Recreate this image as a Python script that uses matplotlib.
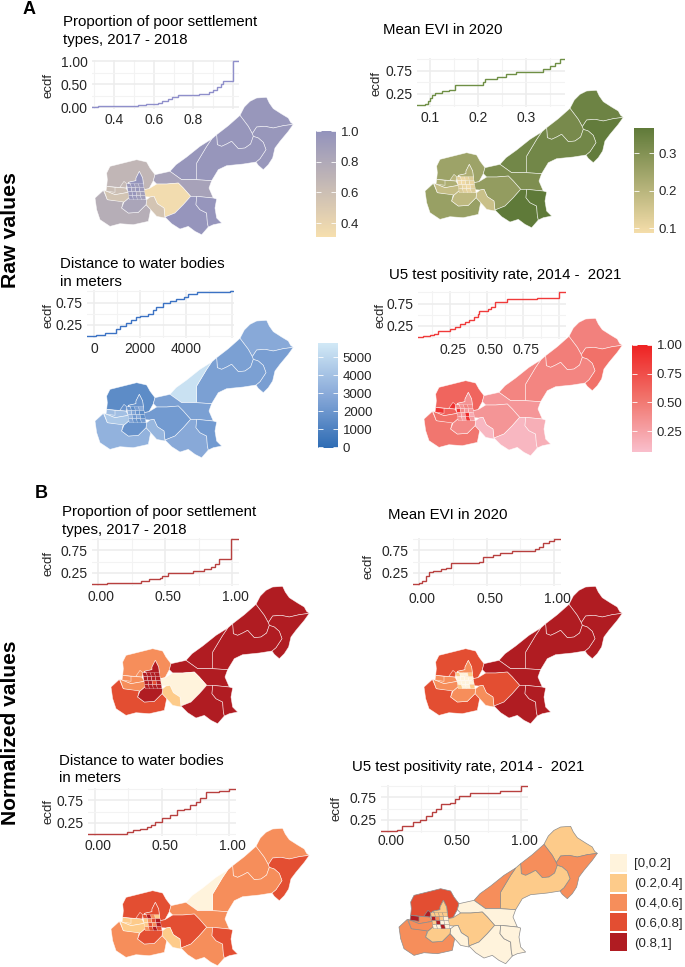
import numpy as np
import matplotlib
matplotlib.use('Agg')
import matplotlib.pyplot as plt
from matplotlib.cm import ScalarMappable
from matplotlib.collections import PolyCollection
from matplotlib.colors import LinearSegmentedColormap, ListedColormap, BoundaryNorm, Normalize
from matplotlib.ticker import AutoMinorLocator
from matplotlib.transforms import ScaledTranslation

plt.rcParams['font.family'] = ['Liberation Sans', 'DejaVu Sans']

W, H = 685, 967

#district outlines, same for all 8 maps
regions = [
    [(320,520),(330,500),(370,490),(410,480),(440,487),(450,505),(465,525),(460,543),(447,567),(432,570),(428,535),(418,515),(408,535),(408,543),(385,548),(378,565),(320,560),(322,540)],
    [(720,347),(733,322),(750,305),(770,295),(800,293),(808,310),(820,327),(845,343),(865,355),(872,368),(880,374),(850,378),(820,385),(795,380),(770,382),(757,402),(745,380)],
    [(757,402),(770,382),(795,380),(820,385),(850,378),(880,374),(865,395),(840,425),(825,445),(818,475),(805,495),(790,510),(775,497),(768,487),(780,477),(798,450),(790,428),(775,415),(760,410)],
    [(650,405),(685,378),(720,347),(745,380),(757,402),(760,410),(752,433),(735,445),(715,447),(695,425),(680,433),(665,440),(652,435)],
    [(635,418),(650,405),(652,435),(665,440),(680,433),(695,425),(715,447),(735,445),(752,433),(760,410),(775,415),(790,428),(798,450),(780,477),(768,487),(730,493),(680,498),(655,510),(635,543),(590,540),(590,490),(605,465),(620,440)],
    [(510,515),(528,495),(560,472),(600,440),(635,418),(620,440),(605,465),(590,490),(590,540),(545,540)],
    [(465,525),(510,515),(545,540),(590,540),(635,543),(627,565),(640,595),(590,590),(572,590),(550,565),(535,550),(500,553),(470,553),(460,543)],
    [(420,590),(432,570),(447,567),(470,553),(500,553),(535,550),(550,565),(572,590),(550,615),(525,640),(495,652),(492,625),(472,612),(462,590),(450,592)],
    [(440,600),(450,592),(462,590),(472,612),(492,625),(495,655),(470,650),(452,630),(438,615)],
    [(495,652),(525,640),(550,615),(572,590),(590,590),(588,615),(600,630),(620,640),(622,668),(625,682),(605,705),(585,695),(565,680),(540,688),(515,672)],
    [(590,590),(640,595),(650,598),(645,625),(650,655),(665,670),(640,675),(625,682),(622,668),(620,640),(600,630),(588,615)],
    [(408,535),(418,515),(428,535),(432,570),(405,563),(385,548),(408,543)],
    [(285,595),(310,572),(322,600),(370,605),(365,625),(385,640),(415,638),(438,615),(452,630),(445,665),(400,675),(360,672),(330,680),(300,660),(290,630)],
    [(365,625),(372,607),(392,590),(420,597),(440,600),(438,615),(415,638),(385,640)],
    [(345,563),(378,565),(385,578),(345,585),(318,574)],
    [(312,572),(318,574),(345,585),(385,578),(392,590),(372,607),(322,600)],
    [(320,560),(345,563),(345,578),(318,574)],
    [(360,562),(372,545),(380,552),(378,565)],
]
#small urban wards in the middle
ward_x = [380, 392, 404, 416, 430]
ward_y = [552, 564, 576, 588, 600]

#district values (same order as regions)
poor_raw = [.68,.96,.96,.97,.97,.97,.86,.34,.55,.98,.98,.99,.76,.84,.60,.56,.62,.65]
evi_raw = [.25,.34,.36,.32,.33,.33,.31,.27,.17,.37,.37,.22,.26,.19,.22,.18,.22,.2]
water_raw = [1500,2900,2400,2500,2500,5400,2500,2200,3500,2900,2200,1800,3300,1800,3900,4300,3800,1800]
tpr_raw = [.62,.45,.55,.47,.43,.43,.32,.33,.12,.12,.17,.35,.52,.40,.65,.55,.9,.92]
poor_norm = [.5,.9,.9,.9,.9,.9,.9,.1,.3,.9,.9,.9,.7,.9,.5,.5,.5,.5]
evi_norm = [.7,.9,.9,.9,.9,.9,.9,.7,.5,.9,.9,.5,.7,.5,.5,.5,.5,.7]
water_norm = [.7,.5,.7,.5,.5,.1,.5,.7,.3,.5,.7,.7,.5,.7,.3,.3,.3,.7]
tpr_norm = [.7,.3,.5,.5,.3,.5,.1,.3,.1,.1,.1,.3,.5,.3,.5,.5,.9,.9]

poor_ward = [.95,.98,.9,.95,.98,.9,.97,.93,.95,.98,.85,.9,.97,.95,.92,.9]
evi_ward = [.12,.1,.11,.13,.1,.1,.12,.11,.13,.11,.1,.12,.14,.12,.11,.13]
water_ward = [2000,1500,2400,3000,3300,2600,1800,1500,3500,2100,2800,1500,2600,1900,1700,2200]
tpr_ward = [.4,.35,.45,.4,.9,.4,.3,.3,.35,.3,.95,.2,.35,.25,.9,.3]
poor_ward_n = [.9,.9,.9,.9,.9,.9,.9,.9,.9,.9,.7,.9,.9,.9,.9,.9]
evi_ward_n = [.3,.1,.1,.3,.1,.1,.1,.1,.1,.1,.1,.1,.3,.1,.1,.3]
water_ward_n = [.7,.9,.5,.3,.3,.5,.7,.9,.3,.7,.5,.9,.5,.7,.9,.7]
tpr_ward_n = [.3,.3,.3,.3,.9,.5,.3,.1,.3,.9,.1,.1,.1,.1,.9,.1]

#ecdf curves
poor_x = [.289,.32,.52,.56,.62,.64,.67,.69,.72,.83,.88,.90,.92,.94,.95,1.0]
poor_y = [0,.03,.05,.07,.10,.13,.18,.22,.26,.28,.33,.37,.43,.50,.58,1.0]
evi_x = [.073,.09,.095,.10,.105,.11,.125,.14,.152,.21,.215,.24,.258,.28,.336,.35,.36,.37]
evi_y = [0,.03,.09,.16,.23,.27,.30,.34,.45,.50,.58,.62,.67,.72,.78,.85,.93,1.0]
water_x = [-300,100,500,950,1150,1400,1630,1850,2000,2350,2550,2720,3010,3300,3590,3900,4100,4460,5900]
water_y = [0,.03,.08,.17,.22,.30,.36,.42,.45,.50,.58,.64,.73,.78,.84,.88,.93,.98,1.0]
tpr_x = [.027,.06,.11,.14,.165,.245,.28,.315,.35,.38,.41,.44,.45,.51,.53,.556,.637,.845,.995]
tpr_y = [0,.02,.05,.08,.13,.18,.23,.30,.34,.39,.45,.52,.59,.62,.68,.78,.85,.88,1.0]
poor_nx = [-.045,.07,.32,.38,.46,.48,.52,.71,.79,.84,.87,.90,.995]
poor_ny = [0,.03,.07,.11,.14,.17,.24,.28,.33,.38,.45,.55,1.0]
evi_nx = [-.045,0,.02,.05,.07,.10,.16,.20,.236,.44,.47,.55,.60,.69,.86,.89,.92,.96,1.0]
evi_ny = [0,.02,.08,.18,.26,.30,.33,.36,.46,.50,.60,.64,.68,.74,.77,.83,.90,.95,1.0]
water_nx = [-.05,.24,.285,.34,.385,.42,.45,.50,.56,.61,.66,.71,.75,.78,.83,.92,1.0]
water_ny = [0,.04,.09,.12,.15,.20,.26,.35,.42,.53,.56,.64,.71,.79,.92,.96,1.0]
tpr_nx = [-.05,.07,.107,.19,.24,.29,.33,.36,.40,.47,.50,.53,.615,.84,.995]
tpr_ny = [0,.03,.12,.20,.25,.34,.42,.50,.60,.62,.70,.78,.85,.88,1.0]

legend_labels = ['[0,0.2]', '(0.2,0.4]', '(0.4,0.6]', '(0.6,0.8]', '(0.8,1]']
legend_values = [1, 1, 1, 1, 1]
class_colors = ['#FFF3DC', '#FDCB8A', '#F68E5B', '#E34E32', '#B01C22']
class_cmap = ListedColormap(class_colors)
class_norm = BoundaryNorm([0, .2, .4, .6, .8, 1], 5)

poor_cmap = LinearSegmentedColormap.from_list('poor', ['#F6DFAE', '#9393BC'])
evi_cmap = LinearSegmentedColormap.from_list('evi', ['#F5DDAA', '#5F7A39'])
water_cmap = LinearSegmentedColormap.from_list('water', ['#2E6CB4', '#87A8D8', '#D2E9F6'])
tpr_cmap = LinearSegmentedColormap.from_list('tpr', ['#F9BFCC', '#F1746C', '#EE2222'])

fig = plt.figure(figsize=(W / 100, H / 100), dpi=100)


def px_axes(x0, y0, x1, y1, **kw):
    return fig.add_axes([x0 / W, 1 - y1 / H, (x1 - x0) / W, (y1 - y0) / H], **kw)


def px_text(x, y, s, **kw):
    return fig.text(x / W, 1 - y / H, s, **kw)


def ecdf_panel(box, xlim, x, y, color, xticks, xlabels, yticks, ylabels, ecdf_at, xpad, shift=0):
    ax = px_axes(*box, zorder=1)
    ax.patch.set_alpha(0)
    ax.step(x + [xlim[1]], y + [y[-1]], where='post', color=color, lw=1.0, zorder=3, solid_joinstyle='miter')
    ax.set_xlim(xlim)
    ax.set_ylim(-.03, 1.03)
    ax.set_xticks(xticks)
    ax.set_xticklabels(xlabels)
    ax.set_yticks(yticks)
    ax.set_yticklabels(ylabels)
    ax.xaxis.set_minor_locator(AutoMinorLocator(2))
    ax.yaxis.set_minor_locator(AutoMinorLocator(2))
    ax.grid(which='major', color='#EDEDED', lw=1.2)
    ax.grid(which='minor', color='#F3F3F3', lw=0.8)
    ax.set_axisbelow(True)
    for s in ax.spines.values():
        s.set_visible(False)
    ax.tick_params(axis='both', which='both', length=0, labelsize=10, labelcolor='#262626')
    ax.tick_params(axis='x', pad=xpad)
    ax.tick_params(axis='y', pad=3)
    if shift:
        off = ScaledTranslation(shift / 100, 0, fig.dpi_scale_trans)
        for t in ax.get_xticklabels():
            t.set_transform(t.get_transform() + off)
    px_text(ecdf_at[0], ecdf_at[1], 'ecdf', rotation=90, ha='center', va='center', fontsize=9.5, color='#262626')
    return ax


def map_panel(x0, y0, values, wards, cmap, norm, edge='#FFFFFFBB', lw=0.45):
    ax = px_axes(x0, y0, x0 + 198.3, y0 + 137.7, zorder=2)
    ax.patch.set_alpha(0)
    ax.set_xlim(285, 880)
    ax.set_ylim(705, 292)
    ax.axis('off')
    pc = PolyCollection(regions, array=np.array(values), cmap=cmap, norm=norm, edgecolors=edge, linewidths=lw)
    pc.set_clip_on(False)
    ax.add_collection(pc)
    cells = []
    for j in range(4):
        for i in range(4):
            sk = j * 2
            cells.append([(ward_x[i] + sk, ward_y[j]), (ward_x[i + 1] + sk, ward_y[j]),
                          (ward_x[i + 1] + sk + 2, ward_y[j + 1]), (ward_x[i] + sk + 2, ward_y[j + 1])])
    ax.add_collection(PolyCollection(cells, array=np.array(wards), cmap=cmap, norm=norm, edgecolors=edge, linewidths=lw * 0.55))


def colorbar_panel(box, cmap, vmin, vmax, ticks, labels):
    cax = px_axes(*box, zorder=2)
    cb = fig.colorbar(ScalarMappable(Normalize(vmin, vmax), cmap), cax=cax)
    cb.outline.set_visible(False)
    cb.set_ticks(ticks)
    cb.set_ticklabels(labels)
    cax.tick_params(axis='y', direction='in', length=3.5, width=0.6, color='white', left=True, right=True,
                    labelsize=9.5, labelcolor='#262626', pad=3.5)


#panel A, raw values
px_text(63, 22, 'Proportion of poor settlement', fontsize=10.8, va='center')
px_text(63, 40, 'types, 2017 - 2018', fontsize=10.8, va='center')
ecdf_panel((92, 60, 239, 108.5), (.289, 1.03), poor_x, poor_y, '#8F8FCB', [.4, .6, .8, 1.0], ['0.4', '0.6', '0.8', ''],
           [0, .5, 1], ['0.00', '0.50', '1.00'], (48, 85), 3)
map_panel(95, 97, poor_raw, poor_ward, poor_cmap, Normalize(.31, 1))
colorbar_panel((316, 131, 336, 237), poor_cmap, .31, 1, [.4, .6, .8, 1], ['0.4', '0.6', '0.8', '1.0'])

px_text(383, 30, 'Mean EVI in 2020', fontsize=10.8, va='center')
ecdf_panel((417, 58, 565, 106.5), (.073, .381), evi_x, evi_y, '#6F8F45', [.1, .2, .3], ['0.1', '0.2', '0.3'],
           [.25, .75], ['0.25', '0.75'], (376, 83), 3)
map_panel(425, 90, evi_raw, evi_ward, evi_cmap, Normalize(.087, .367))
colorbar_panel((634, 128, 654, 233), evi_cmap, .087, .367, [.1, .2, .3], ['0.1', '0.2', '0.3'])

px_text(60, 264, 'Distance to water bodies', fontsize=10.8, va='center')
px_text(60, 282, 'in meters', fontsize=10.8, va='center')
ecdf_panel((87, 290, 234, 337.5), (-300, 6090), water_x, water_y, '#3B72C4', [0, 2000, 4000, 6000], ['0', '2000', '4000', ''],
           [.25, .75], ['0.25', '0.75'], (48, 315), 3)
map_panel(95, 320, water_raw, water_ward, water_cmap, Normalize(-50, 5780))
colorbar_panel((318, 343, 338, 448), water_cmap, -50, 5780, [0, 1000, 2000, 3000, 4000, 5000],
               ['0', '1000', '2000', '3000', '4000', '5000'])

px_text(389, 275, 'U5 test positivity rate, 2014 -  2021', fontsize=10.8, va='center')
ecdf_panel((418, 291, 566, 338.5), (.027, 1.045), tpr_x, tpr_y, '#F03A3A', [.25, .5, .75, 1.0], ['0.25', '0.50', '0.75', ''],
           [.25, .75], ['0.25', '0.75'], (381, 315), 3, shift=3)
map_panel(424, 318, tpr_raw, tpr_ward, tpr_cmap, Normalize(.067, 1))
colorbar_panel((632, 345, 652, 452), tpr_cmap, .067, 1, [.25, .5, .75, 1], ['0.25', '0.50', '0.75', '1.00'])

#panel B, normalized values
line_b = '#B8403F'
px_text(62, 512, 'Proportion of poor settlement', fontsize=10.8, va='center')
px_text(62, 530, 'types, 2017 - 2018', fontsize=10.8, va='center')
ecdf_panel((92, 537.5, 239, 585.5), (-.045, 1.052), poor_nx, poor_ny, line_b, [0, .5, 1], ['0.00', '0.50', '1.00'],
           [.25, .75], ['0.25', '0.75'], (49, 563), 3.5, shift=3)
map_panel(111, 586, poor_norm, poor_ward_n, class_cmap, class_norm)

px_text(388, 515, 'Mean EVI in 2020', fontsize=10.8, va='center')
ecdf_panel((413, 537.5, 561, 585.5), (-.045, 1.05), evi_nx, evi_ny, line_b, [0, .5, 1], ['0.00', '0.50', '1.00'],
           [.25, .75], ['0.25', '0.75'], (369, 566), 5, shift=3)
map_panel(424, 586, evi_norm, evi_ward_n, class_cmap, class_norm)

px_text(59, 761, 'Distance to water bodies', fontsize=10.8, va='center')
px_text(59, 778, 'in meters', fontsize=10.8, va='center')
ecdf_panel((88, 787.5, 236, 835.5), (-.05, 1.05), water_nx, water_ny, line_b, [0, .5, 1], ['0.00', '0.50', '1.00'],
           [.25, .75], ['0.25', '0.75'], (48, 811), 2.5, shift=3)
map_panel(111, 828, water_norm, water_ward_n, class_cmap, class_norm)

px_text(352, 767, 'U5 test positivity rate, 2014 -  2021', fontsize=10.8, va='center')
ecdf_panel((381, 784.5, 528, 832.5), (-.05, 1.05), tpr_nx, tpr_ny, line_b, [0, .5, 1], ['0.00', '0.50', '1.00'],
           [.25, .75], ['0.25', '0.75'], (337, 808), 1.4, shift=3)
map_panel(399, 826, tpr_norm, tpr_ward_n, class_cmap, class_norm, edge='#8C8C8C', lw=0.5)

#legend for the classes
lax = px_axes(610, 853, 627, 952, zorder=2)
lax.barh(range(5), legend_values, height=0.9, color=class_colors)
lax.set_xlim(0, 1)
lax.set_ylim(4.5, -.5)
lax.set_xticks([])
lax.yaxis.tick_right()
lax.set_yticks(range(5))
lax.set_yticklabels(legend_labels)
lax.tick_params(axis='y', length=0, labelsize=9.5, labelcolor='#262626', pad=5)
for s in lax.spines.values():
    s.set_visible(False)

#row labels
px_text(29, 10, 'A', fontsize=13, fontweight='bold', ha='center', va='center')
px_text(41, 493, 'B', fontsize=13, fontweight='bold', ha='center', va='center')
px_text(11, 230, 'Raw values', fontsize=15.3, fontweight='bold', rotation=90, ha='center', va='center')
px_text(11, 733, 'Normalized values', fontsize=15.1, fontweight='bold', rotation=90, ha='center', va='center')

plt.savefig('out.png', dpi=100)
